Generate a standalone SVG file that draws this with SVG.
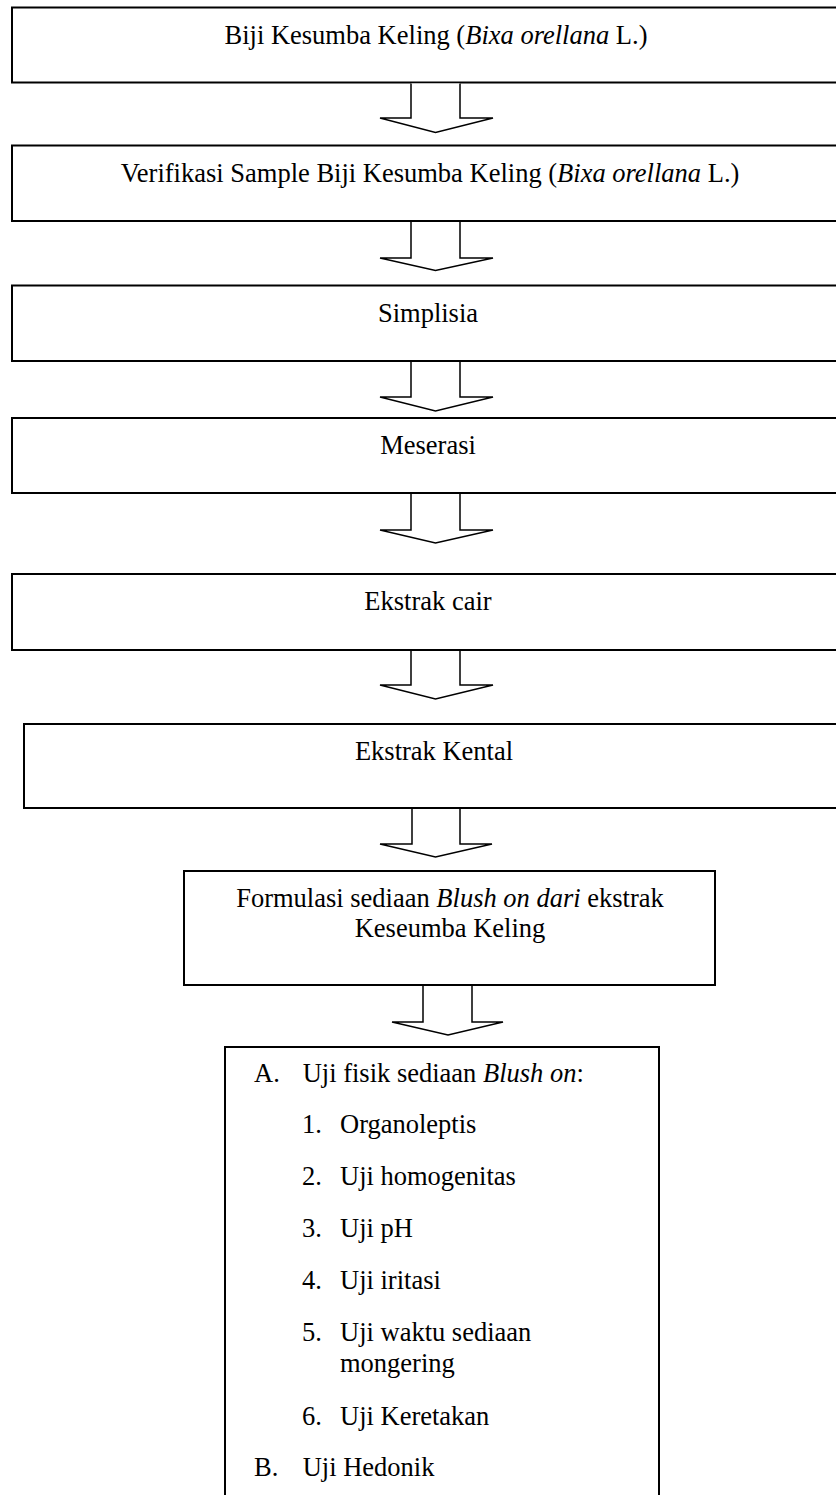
<svg xmlns="http://www.w3.org/2000/svg" width="836" height="1495" viewBox="0 0 836 1495">
<style>
.box{fill:#fff;stroke:#000;stroke-width:2}
.arr{fill:#fff;stroke:#000;stroke-width:1.5;stroke-linejoin:miter}
text{font-family:"Liberation Serif","Times New Roman",serif;font-size:26.5px;fill:#000}
.c{text-anchor:middle}
.i{font-style:italic}
</style>
<rect width="836" height="1495" fill="#fff"/>
<g id="n1"><rect class="box" x="12" y="7.5" width="860" height="75"/><text class="c" x="436" y="43.5">Biji Kesumba Keling (<tspan class="i">Bixa orellana</tspan> L.)</text></g>
<g id="n2"><rect class="box" x="12" y="145.5" width="860" height="75.5"/><text class="c" x="430" y="181.5">Verifikasi Sample Biji Kesumba Keling (<tspan class="i">Bixa orellana</tspan> L.)</text></g>
<g id="n3"><rect class="box" x="12" y="285.5" width="860" height="75.5"/><text class="c" x="428" y="321.5">Simplisia</text></g>
<g id="n4"><rect class="box" x="12" y="418" width="860" height="75"/><text class="c" x="428" y="454">Meserasi</text></g>
<g id="n5"><rect class="box" x="12" y="574" width="860" height="76"/><text class="c" x="428" y="610">Ekstrak cair</text></g>
<g id="n6"><rect class="box" x="24" y="724" width="860" height="84"/><text class="c" x="434" y="760">Ekstrak Kental</text></g>
<g id="n7"><rect class="box" x="184" y="871" width="531" height="114"/><text class="c" x="450" y="907">Formulasi sediaan <tspan class="i">Blush on dari</tspan> ekstrak</text><text class="c" x="450" y="937">Keseumba Keling</text></g>
<g id="n8"><rect class="box" x="225" y="1047" width="434" height="480"/>
<text x="254" y="1082">A.</text><text x="302.7" y="1082">Uji fisik sediaan <tspan class="i">Blush on</tspan>:</text>
<text x="302" y="1133">1.</text><text x="340" y="1133">Organoleptis</text>
<text x="302" y="1185">2.</text><text x="340" y="1185">Uji homogenitas</text>
<text x="302" y="1237">3.</text><text x="340" y="1237">Uji pH</text>
<text x="302" y="1289">4.</text><text x="340" y="1289">Uji iritasi</text>
<text x="302" y="1341">5.</text><text x="340" y="1341">Uji waktu sediaan</text>
<text x="340" y="1372">mongering</text>
<text x="302" y="1425">6.</text><text x="340" y="1425">Uji Keretakan</text>
<text x="254" y="1476">B.</text><text x="302.7" y="1476">Uji Hedonik</text>
</g>
<g id="connectors">
<path class="arr" d="M411,83.5 V118 H380 L435.5,132.5 L493,118 H460 V83.5"/>
<path class="arr" d="M411,222 V258 H380 L435.5,270.5 L493,258 H460 V222"/>
<path class="arr" d="M411,362 V397 H380 L435.5,411 L493,397 H460 V362"/>
<path class="arr" d="M411,494 V530 H380 L435.5,543 L493,530 H460 V494"/>
<path class="arr" d="M411,651 V685 H380 L435.5,699 L493,685 H460 V651"/>
<path class="arr" d="M412,809 V844 H380 L435.5,857 L492,844 H460 V809"/>
<path class="arr" d="M423,986 V1022 H392 L448,1035 L503,1022 H472 V986"/>
</g>
</svg>
